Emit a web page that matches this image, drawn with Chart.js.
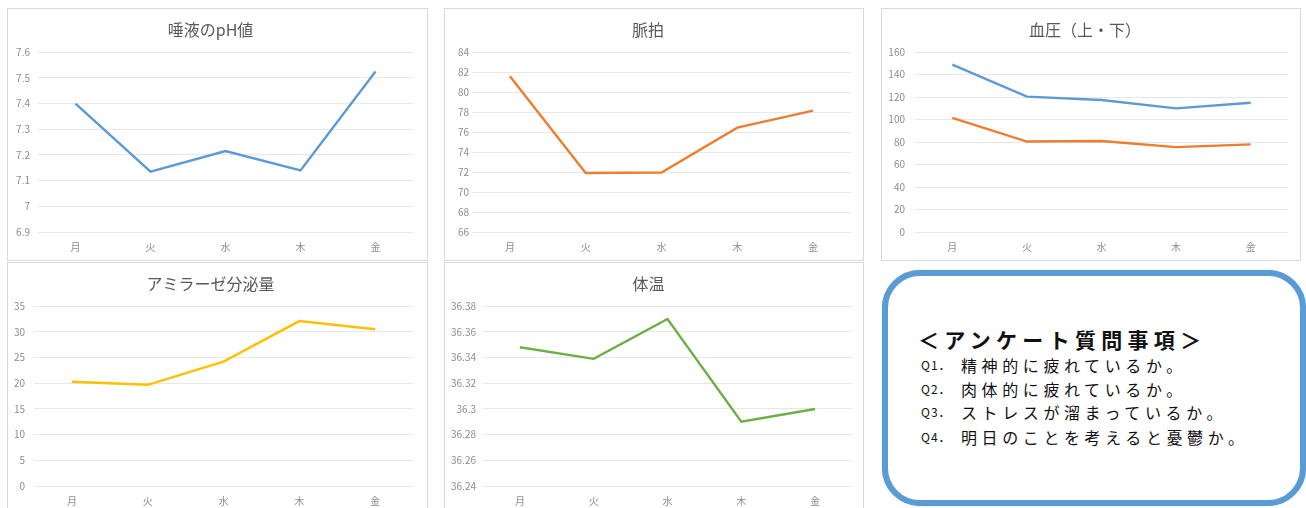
<!DOCTYPE html>
<html lang="ja">
<head>
<meta charset="utf-8">
<title>体調記録</title>
<script src="https://cdn.jsdelivr.net/npm/chart.js@4/dist/chart.umd.min.js"></script>
<style>
  html, body { margin: 0; padding: 0; }
  body {
    width: 1306px; height: 508px; overflow: hidden; position: relative;
    background: #ffffff; font-family: "Noto Sans CJK JP", sans-serif;
  }
  .panel {
    position: absolute; box-sizing: border-box;
    border: 1px solid #d9d9d9; background: #ffffff; overflow: hidden;
  }
  .panel canvas { display: block; }
  #qbox {
    position: absolute; left: 882px; top: 270px; width: 424px; height: 236px;
    box-sizing: border-box; border: 6px solid #5b9bd5; border-radius: 38px;
    background: #ffffff; box-shadow: 0 0 1px 0 #5b9bd5;
  }
  .qh {
    position: absolute; left: 918px; top: 325px; font-size: 21px; line-height: 28px;
    font-weight: bold; letter-spacing: 5.3px; color: #111111; white-space: nowrap;
  }
  .qn {
    position: absolute; left: 921px; font-size: 12px; line-height: 20px;
    color: #111111; white-space: nowrap; letter-spacing: 1px;
  }
  .qt {
    position: absolute; left: 961px; font-size: 16px; line-height: 20px;
    color: #111111; white-space: nowrap; letter-spacing: 4.6px;
  }
</style>
</head>
<body>

<div class="panel" style="left:7px;top:8px;width:421px;height:253px"><canvas id="c1"></canvas></div>
<div class="panel" style="left:444px;top:8px;width:420px;height:253px"><canvas id="c2"></canvas></div>
<div class="panel" style="left:881px;top:8px;width:420px;height:253px"><canvas id="c3"></canvas></div>
<div class="panel" style="left:7px;top:262px;width:421px;height:253px"><canvas id="c4"></canvas></div>
<div class="panel" style="left:444px;top:262px;width:420px;height:253px"><canvas id="c5"></canvas></div>

<div id="qbox"></div>
<div class="qh">＜アンケート質問事項＞</div>
<div class="qn" style="top:355px">Q1．</div><div class="qt" style="top:355px">精神的に疲れているか。</div>
<div class="qn" style="top:379px">Q2．</div><div class="qt" style="top:379px">肉体的に疲れているか。</div>
<div class="qn" style="top:402px">Q3．</div><div class="qt" style="top:402px">ストレスが溜まっているか。</div>
<div class="qn" style="top:427px">Q4．</div><div class="qt" style="top:427px">明日のことを考えると憂鬱か。</div>

<script>
// 曜日
const days = ['月', '火', '水', '木', '金'];

// 唾液のpH値
const phValues = [7.40, 7.135, 7.215, 7.14, 7.525];
// 脈拍
const pulseValues = [81.6, 71.9, 71.95, 76.45, 78.15];
// 血圧（上・下）
const bpUpper = [149, 120.5, 117.5, 110, 115];
const bpLower = [101.5, 80.5, 81, 75.5, 78];
// アミラーゼ分泌量
const amylaseValues = [20.3, 19.7, 24.2, 32.1, 30.5];
// 体温
const tempValues = [36.348, 36.339, 36.37, 36.29, 36.30];

const BLUE = '#5b9bd5', ORANGE = '#ed7d31', GOLD = '#ffc000', GREEN = '#70ad47';
const FONT = '"Noto Sans CJK JP", sans-serif';

function fmt(v) { return String(Number(v.toFixed(3))); }

function makeChart(id, w, title, series, yMin, yMax, yStep, axisW, rightPad, labelGap) {
  const cv = document.getElementById(id);
  cv.width = w; cv.height = 251;
  cv.style.width = w + 'px'; cv.style.height = '251px';
  return new Chart(cv, {
    type: 'line',
    data: {
      labels: days,
      datasets: series.map(s => ({
        data: s.data, borderColor: s.color, backgroundColor: s.color,
        borderWidth: 2.4, pointRadius: 0, pointHoverRadius: 0, tension: 0, fill: false
      }))
    },
    options: {
      responsive: false, animation: false, devicePixelRatio: 1,
      layout: { padding: { left: 0, right: rightPad, top: 0, bottom: 0 } },
      plugins: {
        legend: { display: false },
        tooltip: { enabled: false },
        title: {
          display: true, text: title, color: '#595959',
          font: { family: FONT, size: 16, weight: 'normal', lineHeight: 1.2 },
          padding: { top: 11, bottom: 13 }
        }
      },
      scales: {
        x: {
          offset: true,
          grid: { display: false, drawTicks: false },
          border: { display: false },
          ticks: { color: '#8c8c8c', font: { family: FONT, size: 10 }, padding: 9, maxRotation: 0 },
          afterFit: s => { s.height = 28; }
        },
        y: {
          min: yMin, max: yMax,
          grid: { color: '#e8e8e8', lineWidth: 1, drawTicks: false },
          border: { display: false },
          ticks: {
            stepSize: yStep, color: '#8c8c8c', padding: labelGap,
            font: { family: FONT, size: 10 },
            callback: v => fmt(v)
          },
          afterFit: s => { s.width = axisW; }
        }
      }
    }
  });
}

makeChart('c1', 419, '唾液のpH値', [{ data: phValues, color: BLUE }], 6.9, 7.6, 0.1, 30, 14, 8);
makeChart('c2', 418, '脈拍', [{ data: pulseValues, color: ORANGE }], 66, 84, 2, 27, 12, 3);
makeChart('c3', 418, '血圧（上・下）', [{ data: bpUpper, color: BLUE }, { data: bpLower, color: ORANGE }], 0, 160, 20, 33, 12, 10);
makeChart('c4', 419, 'アミラーゼ分泌量', [{ data: amylaseValues, color: GOLD }], 0, 35, 5, 26, 14, 9);
makeChart('c5', 418, '体温', [{ data: tempValues, color: GREEN }], 36.24, 36.38, 0.02, 38, 11, 7);
</script>
</body>
</html>
